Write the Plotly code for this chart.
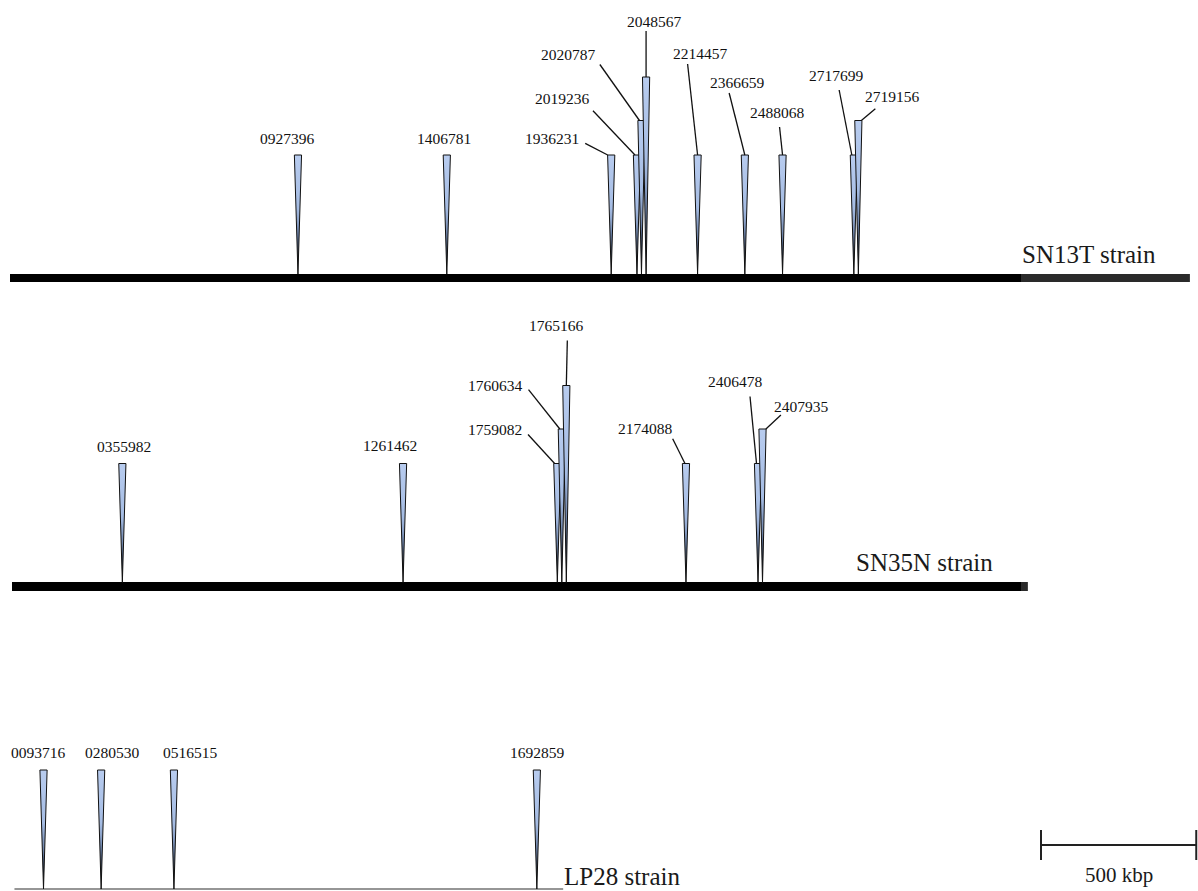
import plotly.graph_objects as go

# ---------------- data ----------------
STRAINS = ["SN13T strain", "SN35N strain", "LP28 strain"]
GENOME_LENGTHS = [3800000, 3277000, 1778000]

SN13T_POSITIONS = [927396, 1406781, 1936231, 2019236, 2020787, 2048567,
                   2214457, 2366659, 2488068, 2717699, 2719156]
SN13T_TIERS = [1, 1, 1, 1, 2, 3, 1, 1, 1, 1, 2]

SN35N_POSITIONS = [355982, 1261462, 1759082, 1760634, 1765166,
                   2174088, 2406478, 2407935]
SN35N_TIERS = [1, 1, 1, 2, 3, 1, 1, 2]

LP28_POSITIONS = [93716, 280530, 516515, 1692859]
LP28_TIERS = [1, 1, 1, 1]

SCALE_BAR_BP = 500000
SCALE_BAR_LABEL = "500 kbp"

# ---------------- styling / layout ----------------
W, H = 1198, 891
MIN_GAP_PX = 4.5
HALF_W_PX = 3.6
TIER_HEIGHTS = {1: 119, 2: 153.5, 3: 197}
FONT = "Liberation Serif"
LABEL_SIZE = 15.5
STRAIN_SIZE = 25

# per track: horizontal scale (px per bp, origin px), apex y, line centre y, width, colours, label pos (px)
TRACKS = [
    dict(ppb=0.3105e-3, x0=10.0, apex=274, yline=278, lw=8, color="#000000",
         tail="#2a2a2a", lab=(1089, 254)),
    dict(ppb=0.3100e-3, x0=12.0, apex=582.5, yline=586.5, lw=9, color="#000000",
         tail="#2a2a2a", lab=(924, 562)),
    dict(ppb=0.3085e-3, x0=14.6, apex=889, yline=889, lw=1.6, color="#8f8f8f",
         tail="#8f8f8f", lab=(622, 876)),
]
BLACK_END_PX = 1021

# label offsets relative to triangle top-centre (px):
# (text dx, text dy, leader start dx, leader start dy, leader end dx)
SN13T_LABEL_STYLE = [
    (-10, -17, None, None, None),
    (-3, -17, None, None, None),
    (-59, -17, -26, -11.7, -3.5),
    (-74, -57, -44, -44.3, -2),
    (-73, -66, -41.6, -56, -2),
    (8, -56, 0, -46, 0),
    (3, -102, -10, -91, 0),
    (-7.4, -73, -15.7, -62, 0),
    (-5, -43, -3, -28, 0),
    (-17, -80, -14.7, -65, -2),
    (34, -24, 17, -11.7, 3),
]
SN35N_LABEL_STYLE = [
    (2, -17, None, None, None),
    (-12.7, -18, None, None, None),
    (-62.5, -34, -29.3, -29, -2.7),
    (-66.5, -44, -33.3, -39.3, -2),
    (-9.5, -60, 1, -45, 0),
    (-40, -35, -13.3, -24.7, -1),
    (-23, -82, -8, -67, -1.5),
    (39, -23, 18.4, -14, 3.4),
]
LP28_LABEL_STYLE = [
    (-5, -18, None, None, None),
    (11, -18, None, None, None),
    (17, -18, None, None, None),
    (1, -18, None, None, None),
]

SCALE_BAR_X_PX = 1041
SCALE_BAR_Y = 845
SCALE_TICK_HALF = 15
SCALE_TEXT_Y = 875

GRADIENT = [[0.0, "#000000"], [0.12, "#1d2636"], [0.32, "#6a80a6"],
            [0.55, "#a5bce3"], [1.0, "#b8ccef"]]

AXIS_NAMES = ["x", "x2", "x3"]


fig = go.Figure()
shapes = []
annotations = []

all_tracks = [
    (SN13T_POSITIONS, SN13T_TIERS, SN13T_LABEL_STYLE),
    (SN35N_POSITIONS, SN35N_TIERS, SN35N_LABEL_STYLE),
    (LP28_POSITIONS, LP28_TIERS, LP28_LABEL_STYLE),
]

layout_axes = {}
for ti, (positions, tiers, styles) in enumerate(all_tracks):
    tr = TRACKS[ti]
    ppb, x0 = tr["ppb"], tr["x0"]
    xref = AXIS_NAMES[ti]
    axis_key = "xaxis" if ti == 0 else f"xaxis{ti + 1}"
    ax = dict(range=[(0 - x0) / ppb, (W - x0) / ppb], visible=False,
              fixedrange=True, domain=[0, 1], anchor="y")
    if ti > 0:
        ax["overlaying"] = "x"
    layout_axes[axis_key] = ax

    def off(dpx):
        return dpx / ppb

    length = GENOME_LENGTHS[ti]
    shapes.append(dict(type="line", xref=xref, yref="y", x0=0, x1=length,
                       y0=tr["yline"], y1=tr["yline"],
                       line=dict(color=tr["tail"], width=tr["lw"]), layer="below"))
    shapes.append(dict(type="line", xref=xref, yref="y", x0=0,
                       x1=min(length, (BLACK_END_PX - x0) / ppb),
                       y0=tr["yline"], y1=tr["yline"],
                       line=dict(color=tr["color"], width=tr["lw"]), layer="below"))
    annotations.append(dict(text=STRAINS[ti], xref="paper", yref="y",
                            x=tr["lab"][0] / W, y=tr["lab"][1],
                            showarrow=False, xanchor="center", yanchor="middle",
                            font=dict(family=FONT, size=STRAIN_SIZE, color="#1a1a1a")))

    # display positions: nudge overlapping neighbours apart
    disp = []
    for p in positions:
        xv = float(p)
        if disp and (xv - disp[-1]) * ppb < MIN_GAP_PX:
            xv = disp[-1] + off(MIN_GAP_PX)
        disp.append(xv)

    hw = off(HALF_W_PX)
    for k, (pos, xd, tier) in enumerate(zip(positions, disp, tiers)):
        top = tr["apex"] - TIER_HEIGHTS[tier]
        apex = tr["apex"]
        fig.add_trace(go.Scatter(
            x=[xd - hw, xd + hw, xd, xd - hw],
            y=[top, top, apex, top],
            xaxis=xref, yaxis="y",
            mode="lines", fill="toself",
            line=dict(color="#111111", width=1),
            fillgradient=dict(type="vertical", colorscale=GRADIENT,
                              start=apex, stop=top),
            hoverinfo="skip", showlegend=False))
        tdx, tdy, sdx, sdy, edx = styles[k]
        annotations.append(dict(text=f"{pos:07d}", xref=xref, yref="y",
                                x=xd + off(tdx), y=top + tdy,
                                showarrow=False, xanchor="center", yanchor="middle",
                                font=dict(family=FONT, size=LABEL_SIZE, color="#111111")))
        if sdx is not None:
            shapes.append(dict(type="line", xref=xref, yref="y",
                               x0=xd + off(sdx), y0=top + sdy,
                               x1=xd + off(edx), y1=top,
                               line=dict(color="#111111", width=1.3)))

# scale bar (drawn on the SN13T scale)
ppb0, x00 = TRACKS[0]["ppb"], TRACKS[0]["x0"]
sb0 = (SCALE_BAR_X_PX - x00) / ppb0
sb1 = sb0 + SCALE_BAR_BP
shapes.append(dict(type="line", xref="x", yref="y", x0=sb0, x1=sb1,
                   y0=SCALE_BAR_Y, y1=SCALE_BAR_Y, line=dict(color="#222222", width=2)))
for xb in (sb0, sb1):
    shapes.append(dict(type="line", xref="x", yref="y", x0=xb, x1=xb,
                       y0=SCALE_BAR_Y - SCALE_TICK_HALF, y1=SCALE_BAR_Y + SCALE_TICK_HALF,
                       line=dict(color="#222222", width=2)))
annotations.append(dict(text=SCALE_BAR_LABEL, xref="x", yref="y",
                        x=(sb0 + sb1) / 2, y=SCALE_TEXT_Y, showarrow=False,
                        xanchor="center", yanchor="middle",
                        font=dict(family=FONT, size=21, color="#1a1a1a")))

fig.update_layout(
    width=W, height=H, margin=dict(l=0, r=0, t=0, b=0),
    paper_bgcolor="white", plot_bgcolor="white",
    yaxis=dict(range=[H, 0], visible=False, fixedrange=True),
    shapes=shapes, annotations=annotations, showlegend=False,
    **layout_axes,
)

fig.write_html("out.html")
